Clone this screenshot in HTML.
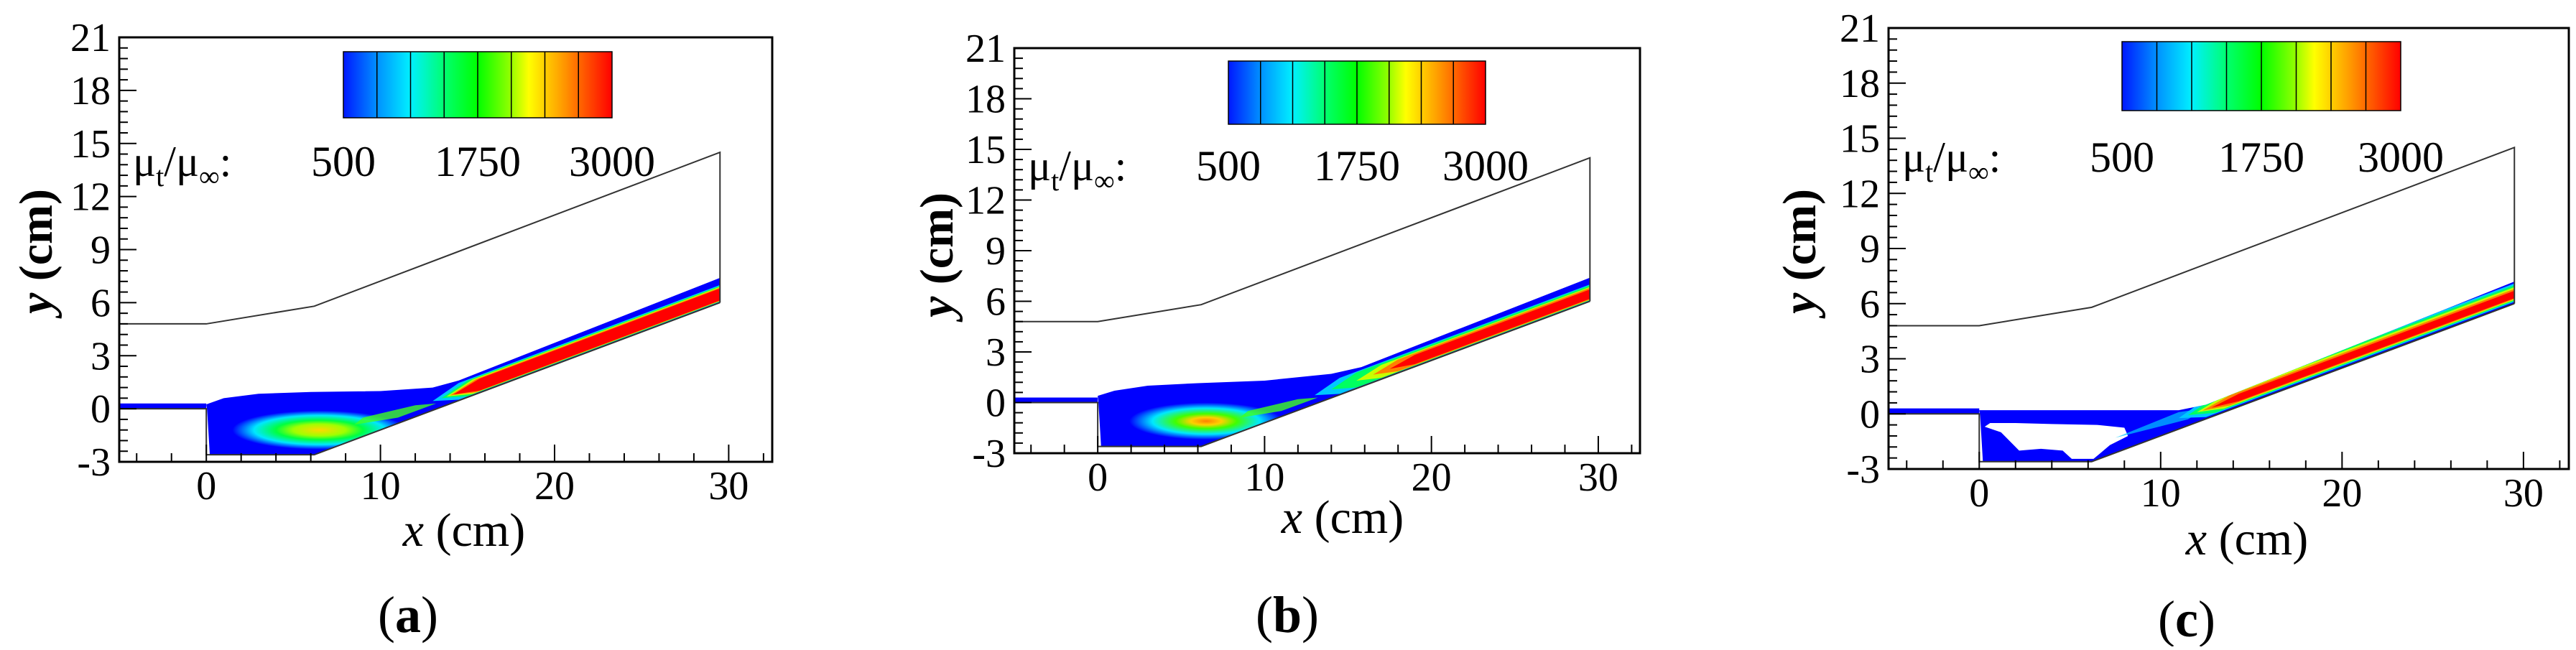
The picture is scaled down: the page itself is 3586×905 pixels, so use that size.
<!DOCTYPE html>
<html><head><meta charset="utf-8"><style>
html,body{margin:0;padding:0;background:#fff;}
svg,svg text{font-family:"Liberation Serif","DejaVu Serif",serif;}
</style></head><body>
<svg id="fig" width="3586" height="900" viewBox="0 0 3586 900" xmlns="http://www.w3.org/2000/svg" font-family="Liberation Serif, DejaVu Serif, serif">
<defs>
<linearGradient id="jet" x1="0" x2="1" y1="0" y2="0">
<stop offset="0" stop-color="#0018ff"/><stop offset="0.125" stop-color="#0090ff"/>
<stop offset="0.25" stop-color="#00f0ff"/><stop offset="0.375" stop-color="#00ff70"/>
<stop offset="0.5" stop-color="#00ff00"/><stop offset="0.62" stop-color="#90ff00"/>
<stop offset="0.69" stop-color="#ffff00"/><stop offset="0.82" stop-color="#ff9800"/>
<stop offset="1" stop-color="#ff0000"/></linearGradient>
<radialGradient id="blobA"><stop offset="0" stop-color="#ffd800"/><stop offset="0.3" stop-color="#a0ff00"/><stop offset="0.5" stop-color="#00ff40"/><stop offset="0.75" stop-color="#00e8ff"/><stop offset="1" stop-color="#0000ff"/></radialGradient>
<radialGradient id="blobB"><stop offset="0" stop-color="#ff8000"/><stop offset="0.2" stop-color="#ffd000"/><stop offset="0.4" stop-color="#40ff00"/><stop offset="0.7" stop-color="#00e8ff"/><stop offset="1" stop-color="#0000ff"/></radialGradient>
</defs>
</svg>
<script>
const xMin=-5, xMax=32.5, yMin=-3, yMax=21;
const xMajorTicks=[0,10,20,30];
const yMajorTicks=[-3,0,3,6,9,12,15,18,21];
const colorbarLabels=["500","1750","3000"];
const panelLetters=["a","b","c"];
const upperWallX=[-5,0,6.2,29.5,29.5];
const upperWallY=[4.8,4.8,5.8,14.5,6.0];
const lowerWallX=[-5,0,0,6.2,29.5];
const lowerWallY=[0,0,-2.6,-2.6,6.0];
const blueEdgeXA=[0,1,3,6,10,13,14.5,29.5], blueEdgeYA=[0.25,0.6,0.85,0.95,1.0,1.2,1.6,7.4];
const blueEdgeXB=[0,1,3,6,10,14,15.8,29.5], blueEdgeYB=[0.4,0.7,1.0,1.15,1.3,1.7,2.1,7.4];
const blueEdgeXC=[0,11,12.5,29.5], blueEdgeYC=[0.2,0.2,0.5,7.2];
const rampStartA=[13,13.5,13.8,14,14.2], rampLowA=[0.05,0.06,0.08,0.1,0.12], rampHighA=[1.0,0.95,0.9,0.85,0.8];
const rampStartB=[13,14,15.5,16.5,17.5], rampLowB=[0.05,0.06,0.08,0.1,0.15], rampHighB=[1.0,0.95,0.85,0.8,0.7];
const rampStartC=[11,11.5,12,12.3,12.8], rampLowC=[0.1,0.15,0.2,0.25,0.3], rampHighC=[1.1,1.0,0.9,0.8,0.7];
const rampColors=["#00c8ff","#00ff60","#c8ff00","#ff8000","#ff0000"];
const holeXC=[0.3,1.2,2.2,3.4,4.6,5.1,6.3,7.2,8.2,8.0,6.5,4,2,0.6];
const holeYC=[-0.7,-1.0,-2.0,-1.9,-2.0,-2.45,-2.45,-1.7,-1.2,-0.75,-0.6,-0.55,-0.5,-0.5];
const panels=[
 {L:166,R:1075,T:52,B:643,cb:[478,852,72,164],lab:185,lbY:245,xl:[646,760],yl:[50,350],let:[568,880],
  ex:blueEdgeXA,ey:blueEdgeYA,rs:rampStartA,rl:rampLowA,rh:rampHighA,blob:"blobA",bc:[6.5,-1.2],br:[5,1.1]},
 {L:1412,R:2283,T:67,B:631,cb:[1710,2068,85,173],lab:1431,lbY:251,xl:[1869,742],yl:[1304,355],let:[1792,880],
  ex:blueEdgeXB,ey:blueEdgeYB,rs:rampStartB,rl:rampLowB,rh:rampHighB,blob:"blobB",bc:[6.5,-1.1],br:[4.6,1.1]},
 {L:2629,R:3576,T:39,B:653,cb:[2954,3342,58,154],lab:2648,lbY:239,xl:[3128,772],yl:[2505,350],let:[3044,886],
  ex:blueEdgeXC,ey:blueEdgeYC,rs:rampStartC,rl:rampLowC,rh:rampHighC,blob:null}
];
const NS="http://www.w3.org/2000/svg";
const svg=document.getElementById("fig");
const defs=svg.querySelector("defs");
function mk(tag,at,par){const e=document.createElementNS(NS,tag);for(const k in at)e.setAttribute(k,at[k]);(par||svg).appendChild(e);return e;}
function rampY(x){return -2.6+(8.6/23.3)*(x-6.2);}
panels.forEach((p,i)=>{
 const g=mk("g",{});
 
 
 const sx=x=>p.L+(x-xMin)/(xMax-xMin)*(p.R-p.L);
 const sy=y=>p.B-(y-yMin)/(yMax-yMin)*(p.B-p.T);
 const pts=(xs,ys)=>xs.map((x,k)=>sx(x)+","+sy(ys[k])).join(" ");
 const inflow=mk("polygon",{points:pts([-5,0,0,-5],[0,0,0.3,0.3]),fill:"#0000ff"},g);
 
 
 const bx=[...p.ex,29.5,6.2,0.2,0.05], by=[...p.ey,6.0,-2.6,-2.6,-0.1];
 const blue=mk("polygon",{points:pts(bx,by),fill:"#0000ff"},g);
 
 
 const cp=mk("clipPath",{id:"clip"+i},defs);
 mk("polygon",{points:pts(bx,by)},cp);
 const inner=mk("g",{'clip-path':"url(#clip"+i+")"},g);
 if(i===2){
  const hole=mk("polygon",{points:pts(holeXC,holeYC),fill:"#fff"},inner);
  
  
  const tail=mk("polygon",{points:pts([7.5,9.5,11.5,12.5,11],[-1.3,-0.8,-0.3,0.3,0.1]),fill:"#00c8ff",opacity:0.7},inner);
  
  
 }
 if(p.blob){
  const el=mk("ellipse",{cx:sx(p.bc[0]),cy:sy(p.bc[1]),rx:sx(p.br[0])-sx(0),ry:sy(0)-sy(p.br[1]),fill:"url(#"+p.blob+")"},inner);
  
  
  const tail=mk("polygon",{points:pts([8.5,11,13.2,12,9],[-0.9,-0.5,0.3,0.2,-0.5]),fill:"#40ff20",opacity:0.8},inner);
  
  
 }
 p.rs.forEach((xs,k)=>{
  const xm=xs+1.5;
  const P=[[xs,rampY(xs)+(p.rl[k]+p.rh[k])/2]];
  P.push([xm,rampY(xm)+p.rh[k]],[29.5,rampY(29.5)+p.rh[k]],[29.5,rampY(29.5)+p.rl[k]],[xm,rampY(xm)+p.rl[k]]);
  const poly=mk("polygon",{points:P.map(q=>sx(q[0])+","+sy(q[1])).join(" "),fill:rampColors[k]},inner);
  
  
 });
 const uw=mk("polyline",{points:pts(upperWallX,upperWallY),fill:"none",stroke:"#333",'stroke-width':2},g);
 
 
 const lw=mk("polyline",{points:pts(lowerWallX,lowerWallY),fill:"none",stroke:"#333",'stroke-width':2},g);
 
 
 const fr=mk("rect",{x:p.L,y:p.T,width:p.R-p.L,height:p.B-p.T,fill:"none",stroke:"#000",'stroke-width':3},g);
 
 
 for(let v=-4;v<=32;v+=2){
  const maj=xMajorTicks.includes(v);
  mk("line",{x1:sx(v),x2:sx(v),y1:p.B,y2:p.B-(maj?24:12),stroke:"#000",'stroke-width':2},g);
 }
 xMajorTicks.forEach(v=>{
  const t=mk("text",{x:sx(v),y:p.B+52,'font-size':56,'text-anchor':'middle'},g);t.textContent=v;
  
  
 });
 for(let v=yMin;v<=yMax+0.01;v+=0.6){
  const maj=Math.abs(Math.round(v)-v)<0.01&&Math.round(v)%3===0;
  mk("line",{x1:p.L,x2:p.L+(maj?24:12),y1:sy(v),y2:sy(v),stroke:"#000",'stroke-width':2},g);
 }
 yMajorTicks.forEach(v=>{
  const t=mk("text",{x:p.L-12,y:sy(v)+19,'font-size':56,'text-anchor':'end'},g);t.textContent=v;
  
  
 });
 const [c0,c1,ct,cb]=p.cb;
 const cbr=mk("rect",{x:c0,y:ct,width:c1-c0,height:cb-ct,fill:"url(#jet)",stroke:"#000",'stroke-width':1.5},g);
 
 
 for(let k=1;k<8;k++){const xx=c0+(c1-c0)*k/8;mk("line",{x1:xx,x2:xx,y1:ct,y2:cb,stroke:"#000",'stroke-width':1.5},g);}
 colorbarLabels.forEach((s,k)=>{
  const t=mk("text",{x:c0+(c1-c0)*k/2,y:p.lbY,'font-size':60,'text-anchor':'middle'},g);t.textContent=s;
  
  
 });
 const mu=mk("text",{x:p.lab,y:p.lbY,'font-size':60},g);
 
 
 mu.innerHTML='μ<tspan font-size="40" dy="14">t</tspan><tspan dy="-14">/μ</tspan><tspan font-size="40" dy="14">∞</tspan><tspan dy="-14">:</tspan>';
 const xt=mk("text",{x:p.xl[0],y:p.xl[1],'font-size':66,'text-anchor':'middle'},g);
 xt.innerHTML='<tspan font-style="italic">x</tspan> (cm)';
 
 
 const yt=mk("text",{x:0,y:0,'font-size':66,'text-anchor':'middle','font-weight':'bold',transform:`translate(${p.yl[0]+22},${p.yl[1]}) rotate(-90)`},g);
 yt.innerHTML='<tspan font-style="italic">y</tspan> (cm)';
 
 
 const lt=mk("text",{x:p.let[0],y:p.let[1],'font-size':72,'text-anchor':'middle'},g);
 lt.innerHTML='(<tspan font-weight="bold">'+panelLetters[i]+'</tspan>)';
 
 
});
</script>
</body></html>
